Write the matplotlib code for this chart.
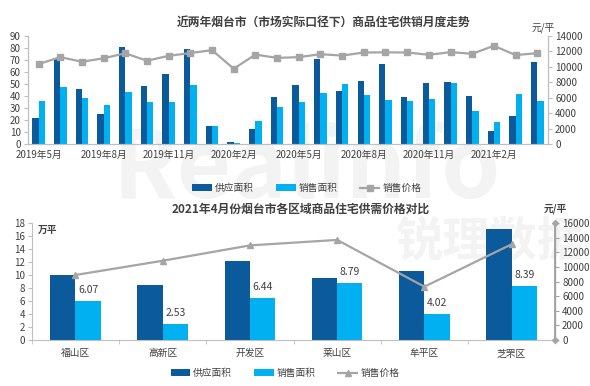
import matplotlib
matplotlib.use("Agg")
import matplotlib.pyplot as plt
import numpy as np

plt.rcParams['font.family'] = ['Noto Sans CJK SC', 'DejaVu Sans']

# top chart: monthly data 2019-05 .. 2021-04
months = ['2019年5月', '', '', '2019年8月', '', '', '2019年11月', '', '', '2020年2月', '', '',
          '2020年5月', '', '', '2020年8月', '', '', '2020年11月', '', '', '2021年2月', '', '']
supply_m = [22, 71.5, 46, 25, 81, 48.5, 58.5, 79, 15, 1.7, 12.5, 39.5,
            49.5, 70.5, 44, 52.5, 67, 39.5, 51, 51.5, 40, 10.8, 23.5, 68]
sales_m = [35.5, 47.5, 38.5, 32.8, 43.5, 35.3, 35.3, 49.3, 15, 0.8, 19.3, 31,
           35.3, 42.5, 50, 41, 36.5, 35.8, 37.5, 50.8, 27.5, 18.3, 41.7, 35.8]
price_m = [10350, 11250, 10650, 11100, 11750, 10780, 11420, 11780, 12150, 9750, 11580, 11150,
           11250, 11630, 11450, 11850, 11870, 11850, 11550, 11900, 11680, 12720, 11520, 11760]

# bottom chart: districts, April 2021
districts = ['福山区', '高新区', '开发区', '莱山区', '牟平区', '芝罘区']
supply_d = [10.05, 8.5, 12.2, 9.6, 10.65, 17.15]
sales_d = [6.07, 2.53, 6.44, 8.79, 4.02, 8.39]
price_d = [8900, 10850, 12950, 13700, 7300, 13100]

dark = '#0A5A9C'
light = '#00B0F0'
grey = '#A5A5A5'
txt = '#404040'
fs = 7

fig = plt.figure(figsize=(5.9, 3.86), dpi=100)

# faint watermark behind everything
fig.text(0.52, 0.56, 'Realinfo', fontsize=68, color='#F3F3F3', ha='center', va='center',
         fontweight='bold', zorder=-5)
fig.text(0.83, 0.375, '锐理数据', fontsize=34, color='#F3F3F3', ha='center', va='center',
         fontweight='bold', zorder=-5)

# ---------- top chart ----------
ax1 = fig.add_axes([0.047, 0.627, 0.882, 0.28])
ax1.patch.set_alpha(0)
x = np.arange(len(supply_m))
w = 0.29
ax1.bar(x - w/2, supply_m, w, color=dark, label='供应面积')
ax1.bar(x + w/2, sales_m, w, color=light, label='销售面积')
ax1.set_ylim(0, 90)
ax1.set_yticks(range(0, 91, 10))
ax1.set_xlim(-0.5, len(x) - 0.5)
ax1.set_xticks(x)
ax1.set_xticklabels(months)
ax1.tick_params(axis='x', length=0, labelsize=fs, colors=txt, pad=4)
ax1.tick_params(axis='y', labelsize=fs, colors=txt, length=3, color='#BFBFBF', pad=2)
ax1.spines['top'].set_visible(False)
for s in ['left', 'bottom', 'right']:
    ax1.spines[s].set_color('#BFBFBF')

ax1r = ax1.twinx()
ax1r.plot(x, price_m, color=grey, lw=1.6, marker='s', ms=4.5, label='销售价格')
ax1r.set_ylim(0, 14000)
ax1r.set_yticks(range(0, 14001, 2000))
ax1r.tick_params(axis='y', labelsize=fs, colors=txt, length=3, color='#BFBFBF', pad=2)
ax1r.spines['top'].set_visible(False)
for s in ['left', 'bottom', 'right']:
    ax1r.spines[s].set_color('#BFBFBF')
ax1r.text(0.99, 1.03, '元/平', transform=ax1r.transAxes, fontsize=fs, color=txt,
          ha='center', va='bottom')

fig.text(0.548, 0.943, '近两年烟台市（市场实际口径下）商品住宅供销月度走势', fontsize=8.5,
         fontweight='bold', color=txt, ha='center', va='center')

h1, l1 = ax1.get_legend_handles_labels()
h2, l2 = ax1r.get_legend_handles_labels()
fig.legend(h1 + h2, l1 + l2, loc='center', bbox_to_anchor=(0.52, 0.513), ncol=3, frameon=False,
           fontsize=fs, handlelength=2.0, handleheight=0.6, handletextpad=0.3,
           columnspacing=2.3, labelcolor=txt)

# ---------- bottom chart ----------
ax2 = fig.add_axes([0.054, 0.119, 0.887, 0.303])
ax2.patch.set_alpha(0)
xd = np.arange(len(districts))
w2 = 0.29
ax2.bar(xd - w2/2, supply_d, w2, color=dark, label='供应面积')
ax2.bar(xd + w2/2, sales_d, w2, color=light, label='销售面积')
for xi, v in zip(xd, sales_d):
    ax2.text(xi + w2/2, v + 0.9, f'{v:.2f}', ha='center', va='bottom', fontsize=7.5, color=txt)
ax2.set_ylim(0, 18)
ax2.set_yticks(range(0, 19, 2))
ax2.set_xlim(-0.5, len(xd) - 0.5)
ax2.set_xticks(xd)
ax2.set_xticklabels(districts)
ax2.set_xticks(np.arange(-0.5, len(xd)), minor=True)
ax2.tick_params(axis='x', which='major', length=0, labelsize=fs, colors=txt, pad=6)
ax2.tick_params(axis='x', which='minor', length=3, color='#BFBFBF')
ax2.tick_params(axis='y', labelsize=fs, colors=txt, length=3, color='#BFBFBF', pad=2)
ax2.spines['top'].set_visible(False)
for s in ['left', 'bottom']:
    ax2.spines[s].set_color('#BFBFBF')
ax2.text(0.012, 0.985, '万平', transform=ax2.transAxes, fontsize=fs, color=txt,
         ha='left', va='top', fontweight='bold')

ax2r = ax2.twinx()
ax2r.plot(xd, price_d, color=grey, lw=1.6, marker='^', ms=5, label='销售价格')
ax2r.set_ylim(0, 16000)
ax2r.set_yticks(range(0, 16001, 2000))
ax2r.tick_params(axis='y', labelsize=fs, colors=txt, length=3, color=grey, pad=2)
ax2r.spines['top'].set_visible(False)
ax2r.spines['left'].set_visible(False)
ax2r.spines['bottom'].set_visible(False)
ax2r.spines['right'].set_color(grey)
ax2r.spines['right'].set_linewidth(1.4)
ax2r.plot([1, 1], [0, 1], transform=ax2r.transAxes, ls='none', marker='D', ms=3,
          color=grey, clip_on=False)
ax2r.text(1.0, 1.08, '元/平', transform=ax2r.transAxes, fontsize=fs, color=txt,
          ha='center', va='bottom', fontweight='bold')

fig.text(0.51, 0.459, '2021年4月份烟台市各区域商品住宅供需价格对比', fontsize=8.5,
         fontweight='bold', color=txt, ha='center', va='center')

h1, l1 = ax2.get_legend_handles_labels()
h2, l2 = ax2r.get_legend_handles_labels()
fig.legend(h1 + h2, l1 + l2, loc='center', bbox_to_anchor=(0.483, 0.034), ncol=3, frameon=False,
           fontsize=fs, handlelength=2.0, handleheight=0.6, handletextpad=0.3,
           columnspacing=2.3, labelcolor=txt)

fig.savefig('out.png', dpi=100)
